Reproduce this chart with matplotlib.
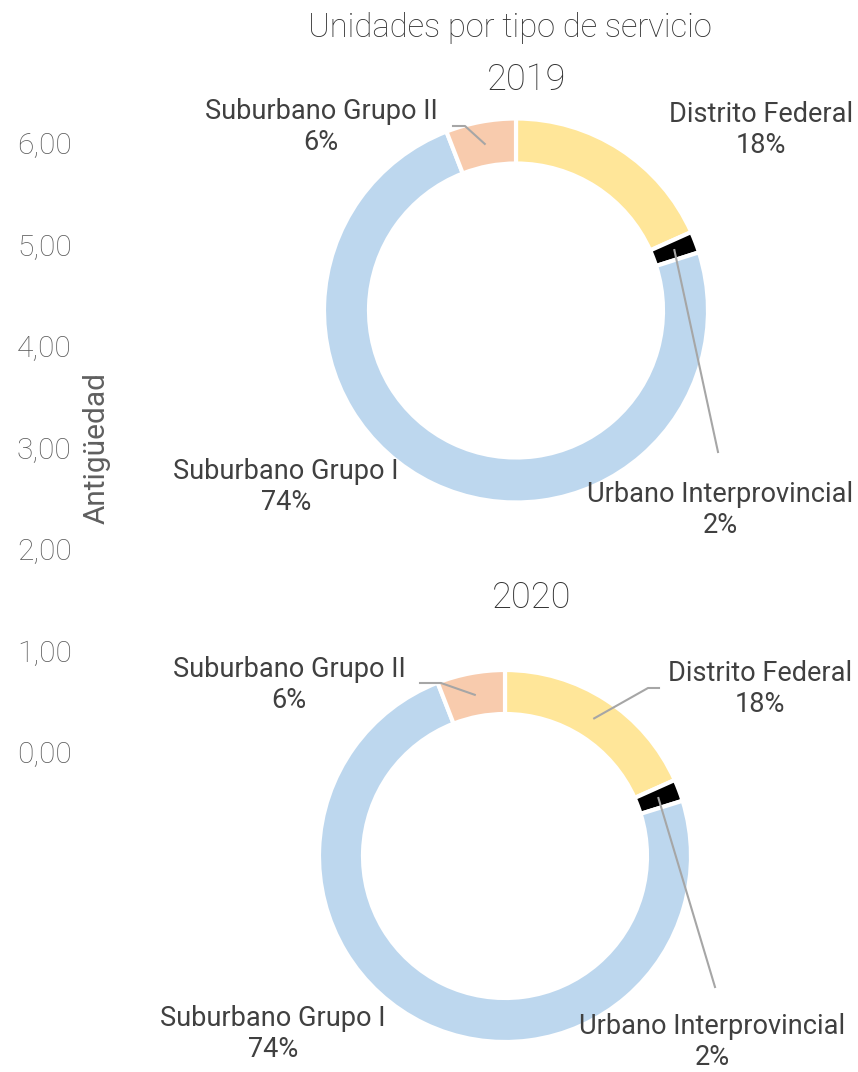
import numpy as np
import matplotlib
matplotlib.use("Agg")
import matplotlib.pyplot as plt

plt.rcParams['font.family'] = ['Roboto', 'DejaVu Sans']

# data
categories = ["Distrito Federal", "Urbano Interprovincial", "Suburbano Grupo I", "Suburbano Grupo II"]
shares_2019 = [18.3, 1.8, 74.0, 5.9]
shares_2020 = [18.3, 1.9, 73.9, 5.9]
years = ["2019", "2020"]
yticks = [0, 1, 2, 3, 4, 5, 6]
ytick_labels = ["0,00", "1,00", "2,00", "3,00", "4,00", "5,00", "6,00"]

colors = ["#FFE699", "#000000", "#BDD7EE", "#F8CBAD"]
W, H = 858, 1072
TEXT = "#404040"
LEAD = "#A6A6A6"

fig = plt.figure(figsize=(W / 100, H / 100), dpi=100)

# leftover value axis on the left
ax_y = fig.add_axes([80 / W, (H - 752) / H, 1 / W, (752 - 143) / H])
ax_y.set_ylim(0, 6)
ax_y.set_yticks(yticks)
ax_y.set_yticklabels(ytick_labels, fontsize=21.5, fontweight='light', color="#5a5a5a")
ax_y.tick_params(axis='y', length=0, pad=6)
ax_y.set_xticks([])
for s in ax_y.spines.values():
    s.set_visible(False)
ax_y.patch.set_visible(False)
fig.text(97 / W, 1 - 448 / H, "Antigüedad", rotation=90, ha='center', va='center',
         fontsize=21.5, color="#5f5f5f")

fig.text(510 / W, 1 - 28 / H, "Unidades por tipo de servicio", ha='center', va='center',
         fontsize=23.5, fontweight='light', color="#333333")

# donut layout in pixels: center, outer radius, inner radius
donuts = [
    dict(cx=516, cy=310.5, r=192, ri=147, title_xy=(527, 80),
         labels={0: (761, 130), 1: (720, 510), 2: (286, 487), 3: (321, 127)},
         leaders={1: [(718, 452)], 3: [(453, 126), (465, 126)]}),
    dict(cx=505, cy=856, r=186, ri=142, title_xy=(532, 598),
         labels={0: (760, 689), 1: (712, 1042), 2: (273, 1034), 3: (289, 685)},
         leaders={0: [(659, 688), (648, 688)], 1: [(715, 987)], 3: [(420, 683), (441, 683)]}),
]

for year, shares, d in zip(years, [shares_2019, shares_2020], donuts):
    cx, cy, r, ri = d['cx'], d['cy'], d['r'], d['ri']
    ax = fig.add_axes([(cx - r) / W, (H - cy - r) / H, 2 * r / W, 2 * r / H])
    wedges, _ = ax.pie(shares, colors=colors, startangle=90, counterclock=False,
                       radius=1, wedgeprops=dict(width=1 - ri / r, edgecolor='white', linewidth=3))
    ax.set_xlim(-1, 1)
    ax.set_ylim(-1, 1)
    ax.set_aspect('auto')
    ax.axis('off')

    def to_data(p):
        return ((p[0] - cx) / r, (cy - p[1]) / r)

    tx, ty = to_data(d['title_xy'])
    ax.text(tx, ty, year, ha='center', va='center', fontsize=26, fontweight='light',
            color="#333333", clip_on=False)

    rmid = (1 + ri / r) / 2
    for i, w in enumerate(wedges):
        ang = np.deg2rad((w.theta1 + w.theta2) / 2)
        anchor = (rmid * np.cos(ang), rmid * np.sin(ang))
        if i in d['leaders']:
            pts = [to_data(p) for p in d['leaders'][i]] + [anchor]
            xs, ys = zip(*pts)
            ax.plot(xs, ys, color=LEAD, lw=1.5, clip_on=False)
        lx, ly = to_data(d['labels'][i])
        ax.text(lx, ly, "%s\n%.0f%%" % (categories[i], shares[i]), ha='center', va='center',
                fontsize=19.5, color=TEXT, linespacing=1.2, clip_on=False)

fig.savefig("out.png", dpi=100)
